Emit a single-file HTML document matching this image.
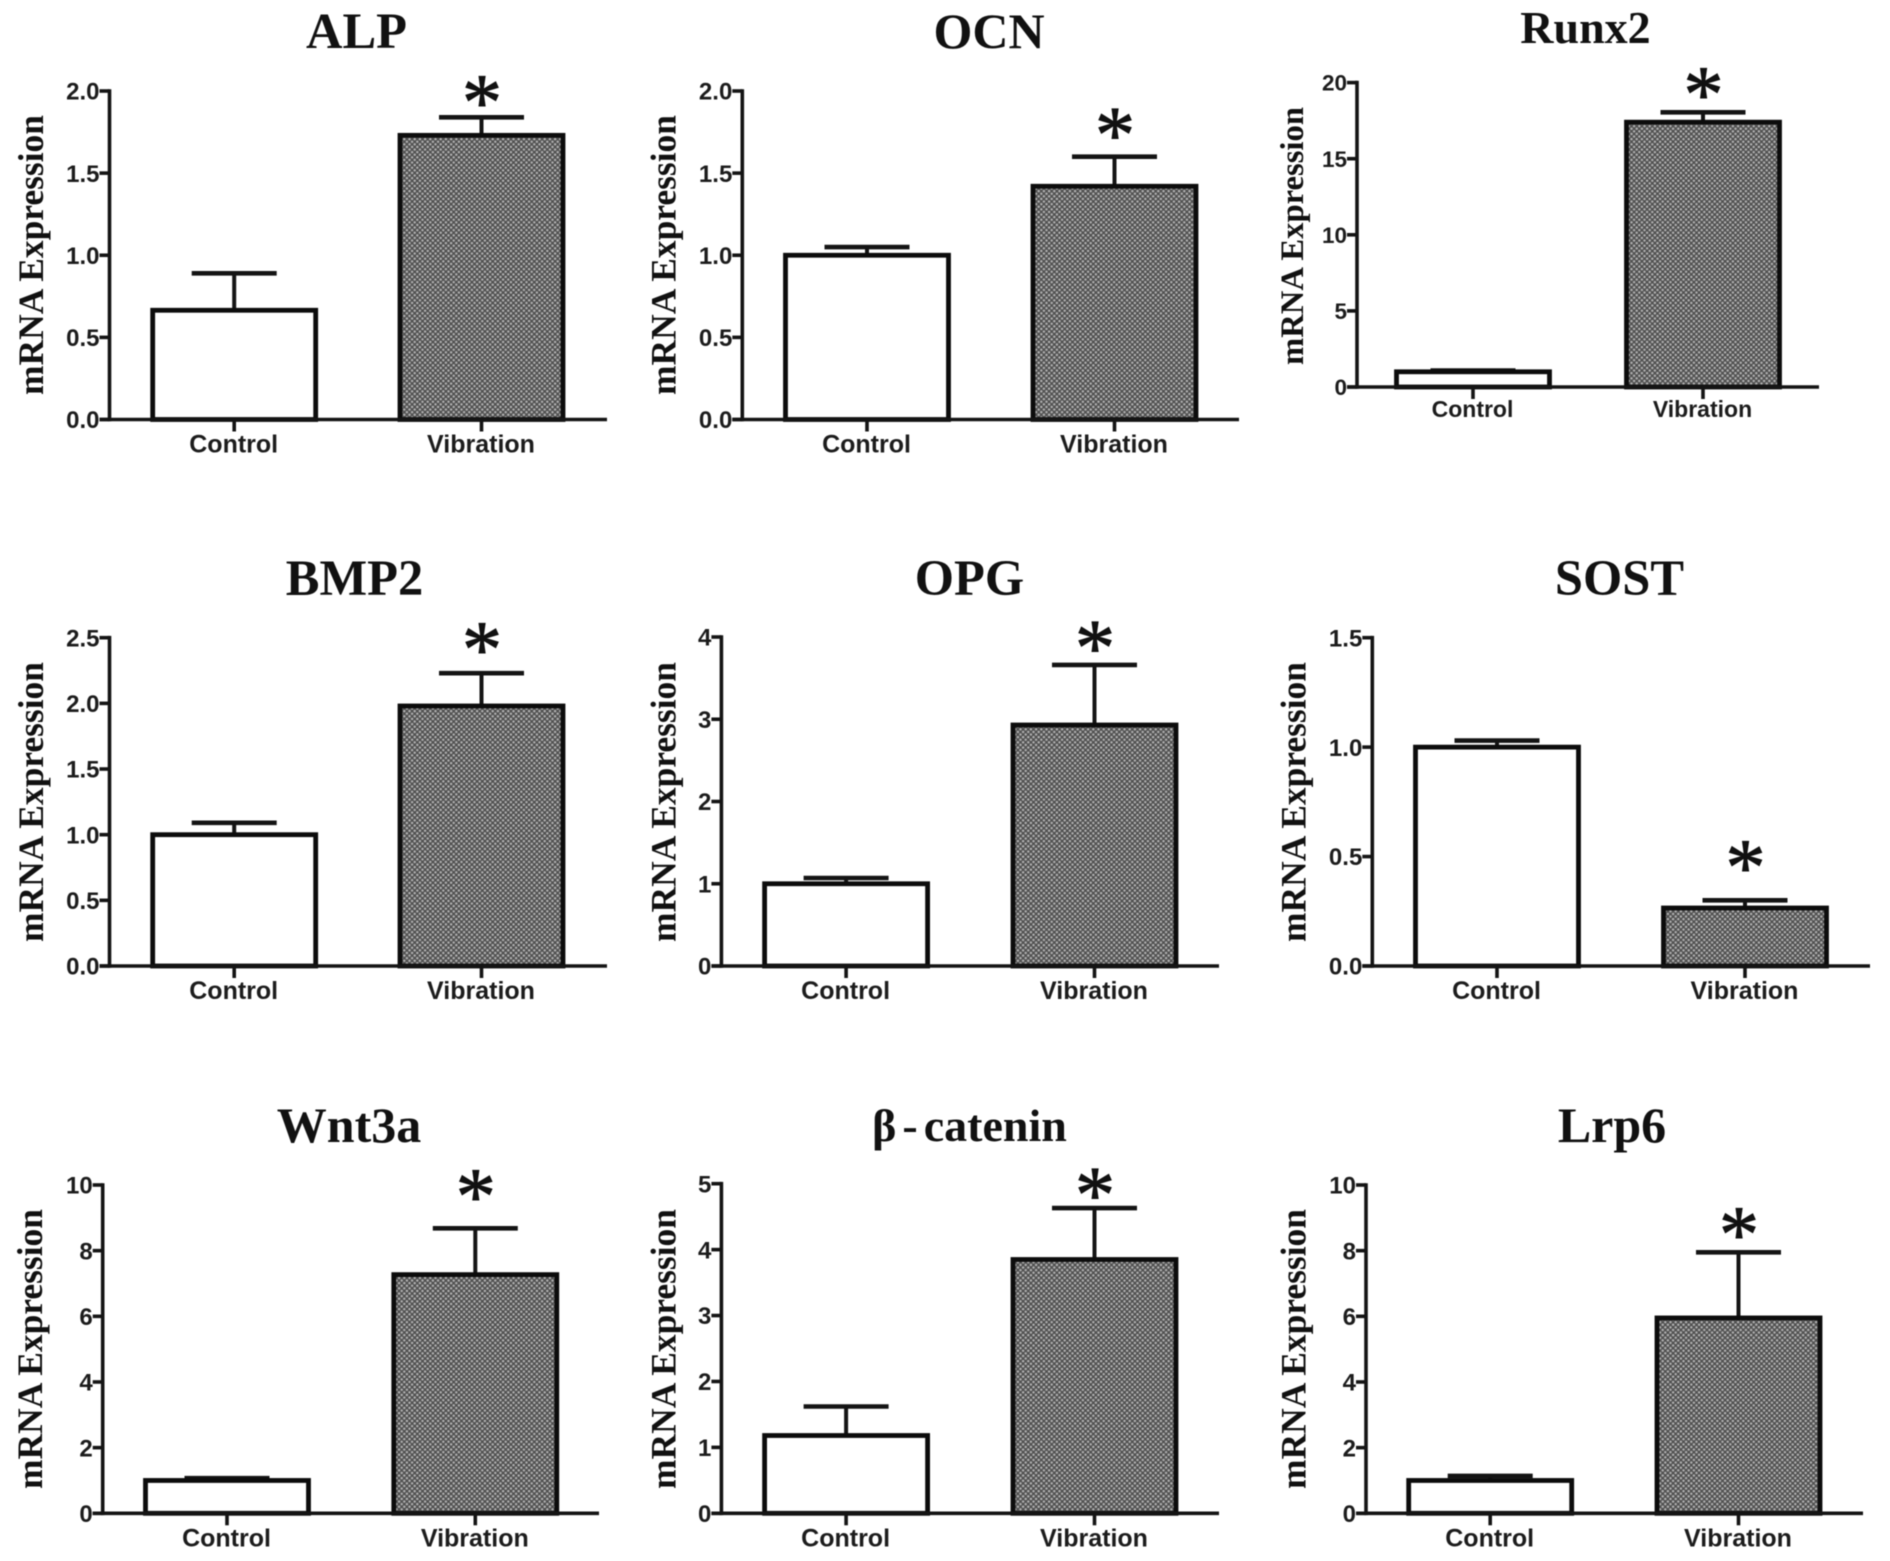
<!DOCTYPE html>
<html lang="en">
<head>
<meta charset="utf-8">
<title>mRNA Expression: Control vs Vibration</title>
<style>
html,body{margin:0;padding:0;background:#fff;width:1890px;height:1561px;overflow:hidden}
svg{display:block;filter:blur(.5px)}
.title,.ylab{font-family:"Liberation Serif",serif;font-weight:bold;fill:#111}
.star{font-family:"Liberation Serif",serif;font-weight:normal;fill:#111;stroke:#111;stroke-width:1}
.tick,.cat{font-family:"Liberation Sans",sans-serif;font-weight:bold;fill:#1c1c1c}
</style>
</head>
<body>
<svg id="figure" width="1890" height="1561" viewBox="0 0 1890 1561" xmlns="http://www.w3.org/2000/svg">
<defs>
<pattern id="dots" patternUnits="userSpaceOnUse" width="5.2" height="5.2">
<rect width="5.2" height="5.2" fill="#505050"/>
<circle cx="1.3" cy="1.3" r="1.2" fill="#b4b4b4"/>
<circle cx="3.9" cy="3.9" r="1.2" fill="#b4b4b4"/>
</pattern>
</defs>
</svg>
<script>
const categories = ["Control", "Vibration"];
const yAxisTitle = "mRNA Expression";
const panelTitles = ["ALP", "OCN", "Runx2", "BMP2", "OPG", "SOST", "Wnt3a", "β - catenin", "Lrp6"];
const controlMeans = [0.665, 1.00, 1.00, 1.00, 1.00, 1.00, 1.00, 1.18, 1.00];
const controlUpper = [0.89, 1.05, 1.08, 1.09, 1.07, 1.03, 1.07, 1.62, 1.14];
const vibrationMeans = [1.73, 1.42, 17.4, 1.98, 2.93, 0.265, 7.27, 3.85, 5.95];
const vibrationUpper = [1.84, 1.60, 18.05, 2.23, 3.66, 0.30, 8.68, 4.63, 7.95];
const yTickLabels = [
  ["0.0", "0.5", "1.0", "1.5", "2.0"],
  ["0.0", "0.5", "1.0", "1.5", "2.0"],
  ["0", "5", "10", "15", "20"],
  ["0.0", "0.5", "1.0", "1.5", "2.0", "2.5"],
  ["0", "1", "2", "3", "4"],
  ["0.0", "0.5", "1.0", "1.5"],
  ["0", "2", "4", "6", "8", "10"],
  ["0", "1", "2", "3", "4", "5"],
  ["0", "2", "4", "6", "8", "10"]
];

// Panel frames (layout only; values above drive the marks)
const frames = [
  {x0:109.5, top:91,    bottom:419.5,  right:607,  c1:234.2,  c2:481.5,  barW:163, labX:43,    labY:255,  labLen:280, labSize:35.5,titleX:356.5,titleY:48,  titleSize:50.5, wordGap:0,    tickSize:24,   catSize:25,   catGap:33, lift:26},
  {x0:742.3, top:91,    bottom:419.5,  right:1239, c1:867,    c2:1114.5, barW:163, labX:675.5, labY:255,  labLen:280, labSize:35.5,titleX:989,  titleY:48,  titleSize:50,   wordGap:0,    tickSize:24,   catSize:25,   catGap:33, lift:33},
  {x0:1357,  top:82.6,  bottom:387,    right:1819, c1:1473,   c2:1703,   barW:153, labX:1303,  labY:236,  labLen:258, labSize:33,  titleX:1585.5,titleY:43, titleSize:46,   wordGap:0,    tickSize:22.5, catSize:23,   catGap:30, lift:29},
  {x0:109.5, top:637.7, bottom:966,    right:607,  c1:234.2,  c2:481.5,  barW:163, labX:43,    labY:802,  labLen:280, labSize:35.5,titleX:354.5,titleY:595, titleSize:50.5, wordGap:0,    tickSize:24,   catSize:25,   catGap:33, lift:35},
  {x0:721.4, top:637,   bottom:966,    right:1219, c1:846.1,  c2:1094.5, barW:163, labX:675.5, labY:802,  labLen:280, labSize:35.5,titleX:969.5,titleY:595, titleSize:50.5, wordGap:0,    tickSize:24,   catSize:25,   catGap:33, lift:28},
  {x0:1372.3,top:637.7, bottom:966,    right:1870, c1:1497,   c2:1745,   barW:163, labX:1305.5,labY:802,  labLen:280, labSize:35.5,titleX:1619.5,titleY:595,titleSize:50.5, wordGap:0,    tickSize:24,   catSize:25,   catGap:33, lift:44},
  {x0:102.7, top:1185,  bottom:1513.3, right:599,  c1:227,    c2:475.3,  barW:163, labX:42,    labY:1349, labLen:280, labSize:35.5,titleX:349,  titleY:1142,titleSize:50,   wordGap:0,    tickSize:24,   catSize:25,   catGap:33, lift:43},
  {x0:721.4, top:1183.7,bottom:1513.3, right:1219, c1:846.1,  c2:1094.5, barW:163, labX:675.5, labY:1349, labLen:280, labSize:35.5,titleX:969.5,titleY:1141,titleSize:46,   wordGap:-5.5, tickSize:24,   catSize:25,   catGap:33, lift:24},
  {x0:1366,  top:1185,  bottom:1513.3, right:1863, c1:1490.2, c2:1738.5, barW:163, labX:1305.5,labY:1349, labLen:280, labSize:35.5,titleX:1612, titleY:1142,titleSize:50,   wordGap:0,    tickSize:24,   catSize:25,   catGap:33, lift:29}
];

const NS = "http://www.w3.org/2000/svg";
const root = document.getElementById("figure");
const INK = "#141414";

function make(parent, tag, attrs, text) {
  const el = document.createElementNS(NS, tag);
  for (const k in attrs) el.setAttribute(k, attrs[k]);
  if (text !== undefined) el.textContent = text;
  parent.appendChild(el);
  return el;
}
function line(parent, x1, y1, x2, y2, width) {
  return make(parent, "line", {x1: x1, y1: y1, x2: x2, y2: y2, stroke: INK, "stroke-width": width});
}

panelTitles.forEach(function (title, p) {
  const f = frames[p];
  const slug = title.toLowerCase().replace(/[^a-z0-9]+/g, "");
  const ticks = yTickLabels[p];
  const yMax = parseFloat(ticks[ticks.length - 1]);
  const yScale = function (v) { return f.bottom - (v / yMax) * (f.bottom - f.top); };

  const g = make(root, "g", {});
  
  

  const titleEl = make(g, "text", {class: "title", x: f.titleX, y: f.titleY, "text-anchor": "middle", "font-size": f.titleSize, "word-spacing": f.wordGap}, title);
  
  

  const ylab = make(g, "text", {class: "ylab", "text-anchor": "middle", "font-size": f.labSize, textLength: f.labLen, lengthAdjust: "spacingAndGlyphs",
    transform: "translate(" + f.labX + "," + f.labY + ") rotate(-90)"}, yAxisTitle);
  
  

  const means = [controlMeans[p], vibrationMeans[p]];
  const uppers = [controlUpper[p], vibrationUpper[p]];
  const centers = [f.c1, f.c2];

  categories.forEach(function (cat, i) {
    const cx = centers[i];
    const capHalf = 42.5;

    const stem = line(g, cx, yScale(uppers[i]), cx, yScale(means[i]), 4);
    
    

    const cap = line(g, cx - capHalf, yScale(uppers[i]), cx + capHalf, yScale(uppers[i]), 4.6);
    
    

    const bar = make(g, "rect", {x: cx - f.barW / 2, y: yScale(means[i]), width: f.barW, height: f.bottom - yScale(means[i]),
      fill: i === 0 ? "#ffffff" : "url(#dots)", stroke: "#0c0c0c", "stroke-width": 4.8});
    
    

    const xTick = line(g, cx, f.bottom, cx, f.bottom + 12, 3.6);
    
    

    const catLabel = make(g, "text", {class: "cat", x: cx - 0.5, y: f.bottom + f.catGap, "text-anchor": "middle", "font-size": f.catSize}, cat);
    
    
  });

  const star = make(g, "text", {class: "star", x: f.c2 + 0.5, y: yScale(uppers[1]) - f.lift + 37.6, "text-anchor": "middle", "font-size": 80}, "*");
  
  

  const yAxis = line(g, f.x0, f.top - 1.8, f.x0, f.bottom + 1.8, 3.6);
  
  

  const xAxis = line(g, f.x0 - 10, f.bottom, f.right, f.bottom, 3.6);
  
  

  ticks.forEach(function (label) {
    const v = parseFloat(label);
    const tick = line(g, f.x0 - 10, yScale(v), f.x0, yScale(v), 3.6);
    
    

    const tickLabel = make(g, "text", {class: "tick", x: f.x0 - 10, y: yScale(v) + f.tickSize * 0.36, "text-anchor": "end", "font-size": f.tickSize}, label);
    
    
  });
});
</script>
</body>
</html>
